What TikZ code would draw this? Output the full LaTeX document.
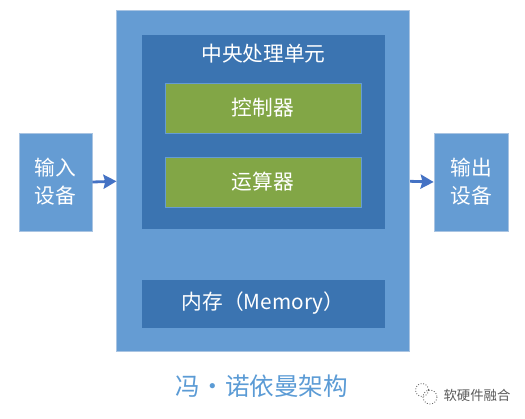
\documentclass[tikz,border=0pt]{standalone}
\usepackage{fontspec}
\usetikzlibrary{arrows.meta}
\setmainfont{Noto Sans CJK SC}
\definecolor{boxblue}{HTML}{659CD3}
\definecolor{deepblue}{HTML}{3B74B1}
\definecolor{leafgreen}{HTML}{82A646}
\definecolor{edgeblue}{HTML}{A9C4E2}
\definecolor{arrowblue}{HTML}{4472C4}
\definecolor{titleblue}{HTML}{5B9BD5}
\tikzset{
    block/.style={draw=edgeblue, line width=0.4pt, inner sep=0pt, text=white, align=center, font=\fontsize{11.8}{16}\selectfont},
    flow/.style={-{Stealth[length=7.4pt, width=8pt, inset=1pt]}, arrowblue, line width=1.6pt},
}
\begin{document}
\begin{tikzpicture}[x=0.02cm, y=-0.02cm]
    \useasboundingbox (0,0) rectangle (525,419);
    % Outer frame and the two side devices
    \node[block, fill=boxblue, minimum width=5.86cm, minimum height=6.82cm] (frame) at (263.3,181.3) {};
    \node[block, fill=boxblue, minimum width=1.46cm, minimum height=1.96cm] (input) at (55.5,182) {输入\\设备};
    \node[block, fill=boxblue, minimum width=1.48cm, minimum height=1.96cm] (output) at (471,182) {输出\\设备};
    % Inner units
    \node[block, draw=boxblue, fill=deepblue, minimum width=4.88cm, minimum height=3.9cm] (cpu) at (263,132.3) {};
    \node[text=white, font=\fontsize{11.8}{14}\selectfont, inner sep=0pt] (cpulabel) at (263.5,54) {中央处理单元};
    \node[block, draw=boxblue, fill=leafgreen, minimum width=3.92cm, minimum height=1cm] (control) at (263,108) {控制器};
    \node[block, draw=boxblue, fill=leafgreen, minimum width=3.92cm, minimum height=1cm] (alu) at (263,182) {运算器};
    \node[block, draw=boxblue, fill=deepblue, minimum width=4.88cm, minimum height=0.98cm] (memory) at (263,303.5) {内存（Memory）};
    % Connectors
    \draw[flow] (input.east) -- (frame.west);
    \draw[flow] (frame.east) -- (output.west);
    % Caption and mark
    \node[text=titleblue, font=\fontsize{14}{16}\selectfont, inner sep=0pt] (caption) at (262,386) {冯・诺依曼架构};
    \node[text=black!65, font=\fontsize{7.6}{9}\selectfont, inner sep=0pt] (mark) at (477,395) {软硬件融合};
    \draw[black!60, densely dotted, line width=0.5pt] (422,390) circle (6.5);
    \draw[black!60, densely dotted, line width=0.5pt] (430,397) circle (7);
\end{tikzpicture}
\end{document}
